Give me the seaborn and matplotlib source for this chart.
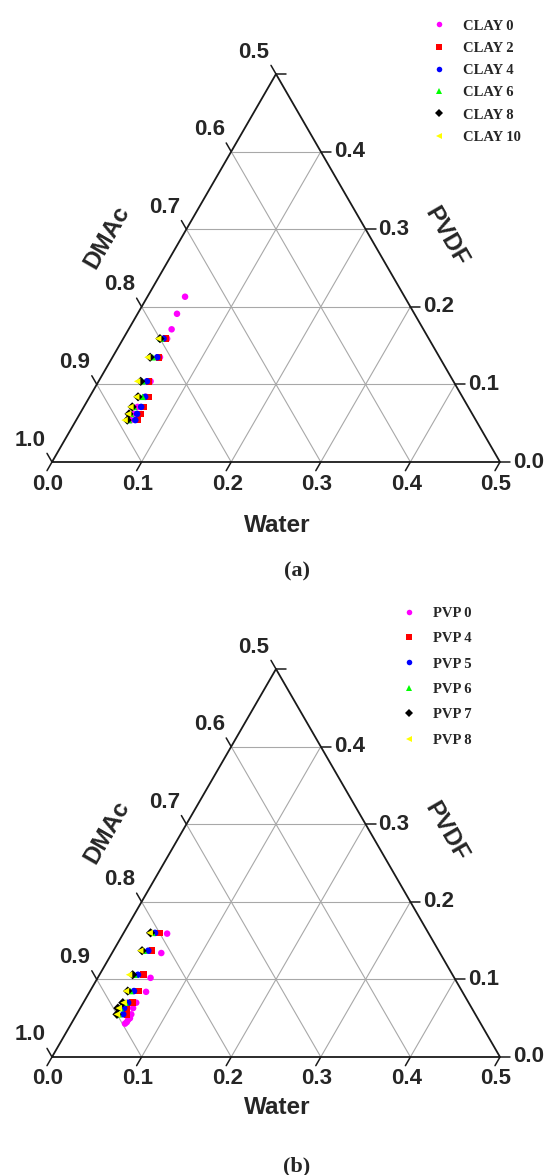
import numpy as np
import pandas as pd
import matplotlib
matplotlib.use('Agg')
import matplotlib.pyplot as plt
import seaborn as sns

# ---- panel (a) : clay loading, water / pvdf fractions of the cloud points
clay_labels = ['CLAY 0', 'CLAY 2', 'CLAY 4', 'CLAY 6', 'CLAY 8', 'CLAY 10']
clay_pvdf = [0.159, 0.135, 0.104, 0.084, 0.071, 0.062, 0.054]
clay0_pvdf = [0.213, 0.191, 0.171] + clay_pvdf
clay0_water = [0.042, 0.044, 0.048, 0.049, 0.053, 0.058, 0.063, 0.060, 0.060, 0.061]
clay2_water = [0.048, 0.052, 0.056, 0.066, 0.067, 0.068, 0.069]
clay4_water = [0.045, 0.050, 0.054, 0.062, 0.064, 0.064, 0.066]
clay6_water = [0.042, 0.045, 0.049, 0.059, 0.056, 0.057, 0.059]
clay8_water = [0.041, 0.042, 0.047, 0.054, 0.054, 0.055, 0.057]
clay10_water = [0.039, 0.039, 0.043, 0.052, 0.052, 0.054, 0.054]

# ---- panel (b) : pvp loading
pvp_labels = ['PVP 0', 'PVP 4', 'PVP 5', 'PVP 6', 'PVP 7', 'PVP 8']
pvp_pvdf = [0.160, 0.137, 0.106, 0.085, 0.070, 0.063, 0.055]
pvp0_pvdf = [0.159, 0.134, 0.102, 0.084, 0.070, 0.063, 0.055, 0.050, 0.048, 0.045, 0.043]
pvp0_water = [0.049, 0.055, 0.059, 0.063, 0.059, 0.059, 0.061, 0.062, 0.061, 0.061, 0.060]
pvp4_water = [0.040, 0.043, 0.049, 0.054, 0.055, 0.052, 0.056]
pvp5_water = [0.035, 0.039, 0.043, 0.049, 0.050, 0.049, 0.052]
pvp6_water = [0.032, 0.034, 0.039, 0.045, 0.047, 0.045, 0.047]
pvp7_water = [0.030, 0.032, 0.037, 0.042, 0.044, 0.042, 0.045]
pvp8_water = [0.029, 0.030, 0.033, 0.040, 0.045, 0.043, 0.045]

colors = ['#ff00ff', '#ff0000', '#0000ff', '#00ff00', '#000000', '#ffff00']
marks = ['o', 's', 'o', '^', 'D', '<']

H = np.sqrt(3) / 2
PX = 1 / 896.0  # one pixel in data units

def cart(w, p):
    return w + p / 2, p * H

def make_df(labels, waters, pvdfs):
    rows = []
    for lab, ws, ps in zip(labels, waters, pvdfs):
        for w, p in zip(ws, ps):
            x, y = cart(w, p)
            rows.append({'serie': lab, 'x': x, 'y': y})
    return pd.DataFrame(rows)

df_a = make_df(clay_labels,
               [clay0_water, clay2_water, clay4_water, clay6_water, clay8_water, clay10_water],
               [clay0_pvdf] + [clay_pvdf] * 5)
df_b = make_df(pvp_labels,
               [pvp0_water, pvp4_water, pvp5_water, pvp6_water, pvp7_water, pvp8_water],
               [pvp0_pvdf] + [pvp_pvdf] * 5)

sns.set_theme(style='white')
sans = {'family': 'Liberation Sans', 'weight': 'bold', 'size': 16}
title_font = {'family': 'Liberation Sans', 'weight': 'bold', 'size': 17.5}
serif_leg = {'family': 'Liberation Serif', 'weight': 'bold', 'size': 10.5}

def ternary(ax, df, labels, water_y, leg_x, leg_sp, letter):
    # frame, grid and ticks
    ax.plot([0, 0.5, 0.25, 0], [0, 0, 0.5 * H, 0], color='k', lw=1.3, zorder=3)
    for v in [0.1, 0.2, 0.3, 0.4]:
        for a, b in [((0, v), (0.5 - v, v)), ((v, 0), (v, 0.5 - v)), ((v, 0), (0, v))]:
            p1, p2 = cart(*a), cart(*b)
            ax.plot([p1[0], p2[0]], [p1[1], p2[1]], color='#a8a8a8', lw=0.8, zorder=1)
    t = 10 * PX
    for v in [0.0, 0.1, 0.2, 0.3, 0.4, 0.5]:
        # water (bottom)
        x, y = cart(v, 0)
        ax.plot([x, x - 0.5 * t], [y, y - H * t], color='k', lw=1.1)
        ax.text(x - 4 * PX, y - 22 * PX, f'{v:.1f}', ha='center', va='center', fontdict=sans)
        # pvdf (right)
        x, y = cart(0.5 - v, v)
        ax.plot([x, x + t], [y, y], color='k', lw=1.1)
        if v < 0.5:
            ax.text(x + 13 * PX, y, f'{v:.1f}', ha='left', va='center', fontdict=sans)
        # dmac (left)
        x, y = cart(0, v)
        ax.plot([x, x - 0.5 * t], [y, y + H * t], color='k', lw=1.1)
        ax.text(x - 22 * PX, y + 22 * PX, f'{1 - v:.1f}', ha='center', va='center', fontdict=sans)

    ax.text(0.2511, water_y, 'Water', ha='center', va='center', fontdict=title_font)
    ax.text(0.0614, 0.2511, 'DMAc', ha='center', va='center', rotation=60,
            rotation_mode='anchor', fontdict=title_font)
    ax.text(0.4397, 0.2511, 'PVDF', ha='center', va='center', rotation=-60,
            rotation_mode='anchor', fontdict=title_font)
    ax.text(0.2734, -0.1217, letter, ha='center', va='center',
            family='Liberation Serif', weight='bold', size=16)

    sns.scatterplot(data=df, x='x', y='y', hue='serie', style='serie',
                    hue_order=labels, style_order=labels,
                    palette=dict(zip(labels, colors)), markers=dict(zip(labels, marks)),
                    s=22, linewidth=0, ax=ax, zorder=4)
    sns.move_legend(ax, 'upper left', bbox_to_anchor=(leg_x, 0.967), frameon=False,
                    title=None, borderpad=0, borderaxespad=0, handlelength=1.0,
                    handletextpad=1.1, labelspacing=leg_sp, prop=serif_leg, markerscale=0.85)
    ax.axis('off')

fig = plt.figure(figsize=(5.47, 11.75), dpi=100)
ax_a = fig.add_axes([0, 588 / 1175, 1, 587 / 1175])
ax_b = fig.add_axes([0, 0, 1, 588 / 1175])

ternary(ax_a, df_a, clay_labels, -63 * PX, 432 / 547, 0.62, '(a)')
ax_a.set_xlim(-52 * PX, 495 * PX)
ax_a.set_ylim(-125 * PX, 462 * PX)

ternary(ax_b, df_b, pvp_labels, -51 * PX, 402 / 547, 0.84, '(b)')
ax_b.set_xlim(-52 * PX, 495 * PX)
ax_b.set_ylim(-118 * PX, 470 * PX)

fig.savefig('out.png', dpi=100, facecolor='white')
